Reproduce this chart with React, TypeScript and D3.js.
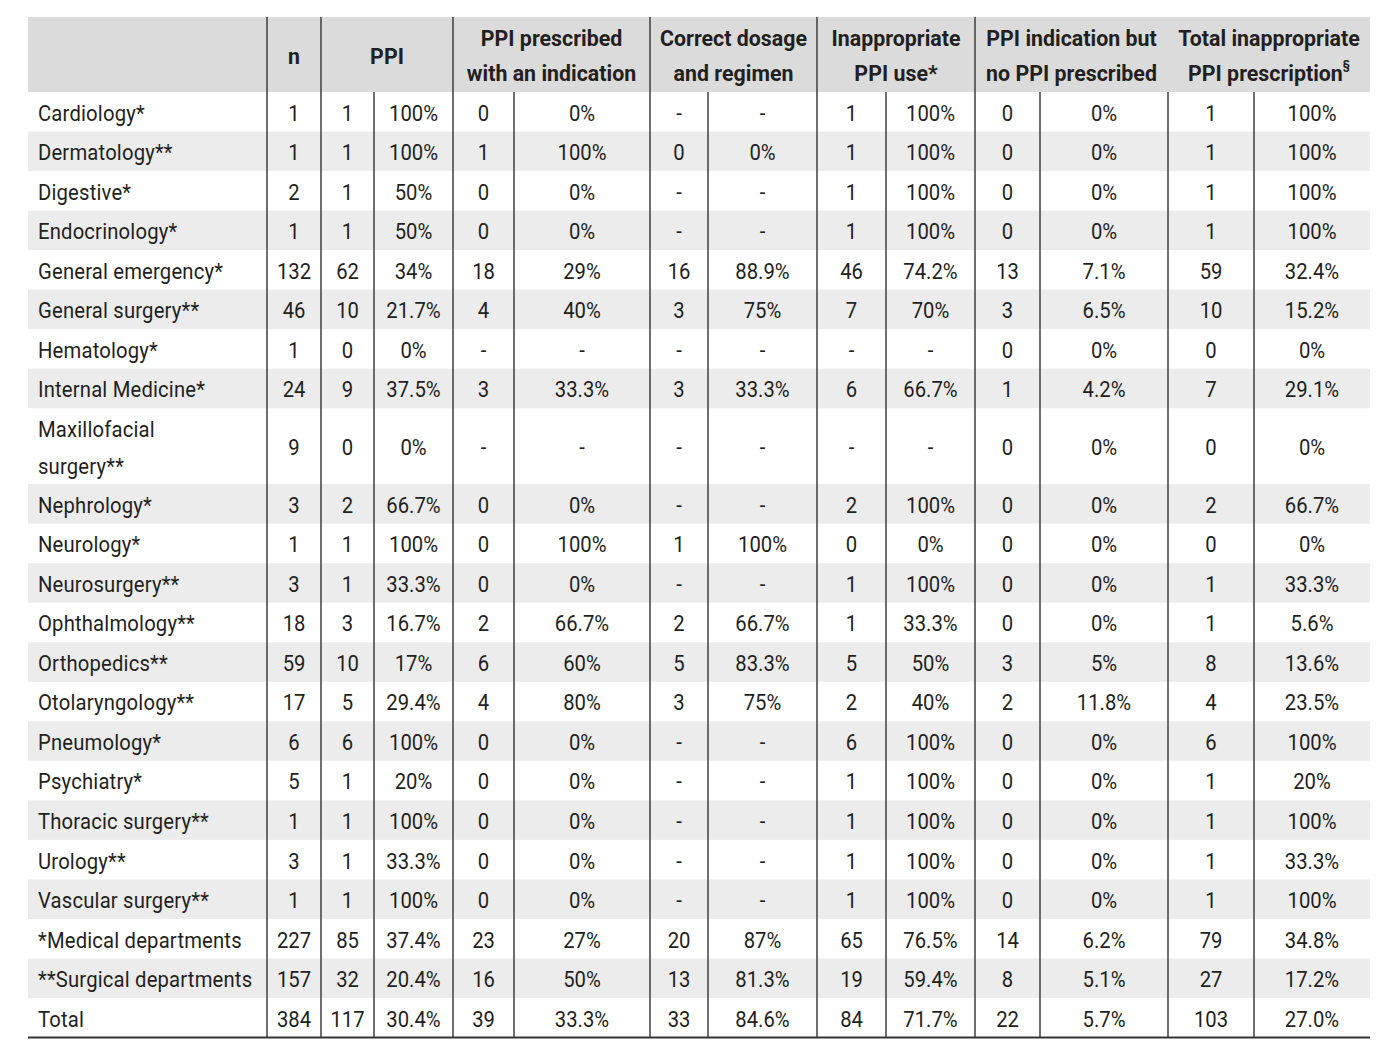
import * as d3 from "d3";

const departments = [
  "Cardiology*", "Dermatology**", "Digestive*", "Endocrinology*", "General emergency*",
  "General surgery**", "Hematology*", "Internal Medicine*", "Maxillofacial\nsurgery**",
  "Nephrology*", "Neurology*", "Neurosurgery**", "Ophthalmology**", "Orthopedics**",
  "Otolaryngology**", "Pneumology*", "Psychiatry*", "Thoracic surgery**", "Urology**",
  "Vascular surgery**", "*Medical departments", "**Surgical departments", "Total",
];

const nTotal = ["1", "1", "2", "1", "132", "46", "1", "24", "9", "3", "1", "3", "18", "59", "17", "6", "5", "1", "3", "1", "227", "157", "384"];
const ppiN = ["1", "1", "1", "1", "62", "10", "0", "9", "0", "2", "1", "1", "3", "10", "5", "6", "1", "1", "1", "1", "85", "32", "117"];
const ppiPct = ["100%", "100%", "50%", "50%", "34%", "21.7%", "0%", "37.5%", "0%", "66.7%", "100%", "33.3%", "16.7%", "17%", "29.4%", "100%", "20%", "100%", "33.3%", "100%", "37.4%", "20.4%", "30.4%"];
const indicN = ["0", "1", "0", "0", "18", "4", "-", "3", "-", "0", "0", "0", "2", "6", "4", "0", "0", "0", "0", "0", "23", "16", "39"];
const indicPct = ["0%", "100%", "0%", "0%", "29%", "40%", "-", "33.3%", "-", "0%", "100%", "0%", "66.7%", "60%", "80%", "0%", "0%", "0%", "0%", "0%", "27%", "50%", "33.3%"];
const dosageN = ["-", "0", "-", "-", "16", "3", "-", "3", "-", "-", "1", "-", "2", "5", "3", "-", "-", "-", "-", "-", "20", "13", "33"];
const dosagePct = ["-", "0%", "-", "-", "88.9%", "75%", "-", "33.3%", "-", "-", "100%", "-", "66.7%", "83.3%", "75%", "-", "-", "-", "-", "-", "87%", "81.3%", "84.6%"];
const inapN = ["1", "1", "1", "1", "46", "7", "-", "6", "-", "2", "0", "1", "1", "5", "2", "6", "1", "1", "1", "1", "65", "19", "84"];
const inapPct = ["100%", "100%", "100%", "100%", "74.2%", "70%", "-", "66.7%", "-", "100%", "0%", "100%", "33.3%", "50%", "40%", "100%", "100%", "100%", "100%", "100%", "76.5%", "59.4%", "71.7%"];
const noPpiN = ["0", "0", "0", "0", "13", "3", "0", "1", "0", "0", "0", "0", "0", "3", "2", "0", "0", "0", "0", "0", "14", "8", "22"];
const noPpiPct = ["0%", "0%", "0%", "0%", "7.1%", "6.5%", "0%", "4.2%", "0%", "0%", "0%", "0%", "0%", "5%", "11.8%", "0%", "0%", "0%", "0%", "0%", "6.2%", "5.1%", "5.7%"];
const totInapN = ["1", "1", "1", "1", "59", "10", "0", "7", "0", "2", "0", "1", "1", "8", "4", "6", "1", "1", "1", "1", "79", "27", "103"];
const totInapPct = ["100%", "100%", "100%", "100%", "32.4%", "15.2%", "0%", "29.1%", "0%", "66.7%", "0%", "33.3%", "5.6%", "13.6%", "23.5%", "100%", "20%", "100%", "33.3%", "100%", "34.8%", "17.2%", "27.0%"];

const columns = [nTotal, ppiN, ppiPct, indicN, indicPct, dosageN, dosagePct, inapN, inapPct, noPpiN, noPpiPct, totInapN, totInapPct];

const headers = [
  { lines: ["n"], span: 1 },
  { lines: ["PPI"], span: 2 },
  { lines: ["PPI prescribed", "with an indication"], span: 2 },
  { lines: ["Correct dosage", "and regimen"], span: 2 },
  { lines: ["Inappropriate", "PPI use*"], span: 2 },
  { lines: ["PPI indication but", "no PPI prescribed"], span: 2 },
  { lines: ["Total inappropriate", "PPI prescription"], span: 2, sup: "§" },
];

// layout
const W = 1396;
const H = 1059;
const colEdges = [28, 267, 321, 374, 453, 514, 650, 708, 817, 886, 975, 1040, 1168, 1254, 1370];
const headTop = 17;
const headBottom = 92;
const tableBottom = 1037.5;
const FONT = "Roboto, 'Noto Sans', sans-serif";
const FS = 22.5;
const ink = "#231f20";

const T = ({ x, y, anchor = "start", bold = false, sx = 0.88, ls = 0, children }: any) => (
  <text
    transform={`translate(${x},${y}) scale(${sx},1)`}
    dy={1}
    textAnchor={anchor}
    dominantBaseline="central"
    fontSize={FS}
    fontWeight={bold ? "bold" : "normal"}
    letterSpacing={ls}
    fill={ink}
  >
    {children}
  </text>
);

export default function App() {
  const units = departments.map((d) => (d.includes("\n") ? 1.92 : 1));
  const cum = [0, ...d3.cumsum(units)];
  const y = d3.scaleLinear().domain([0, cum[cum.length - 1]]).range([headBottom, tableBottom]);

  const groupEdges: number[] = [];
  let ci = 1;
  headers.forEach((h) => {
    groupEdges.push(ci);
    ci += h.span;
  });

  return (
    <svg
      width={W}
      height={H}
      style={{ position: "absolute", left: 0, top: 0, background: "#fff" }}
      fontFamily={FONT}
    >
      {/* header band */}
      <rect x={colEdges[0]} y={headTop} width={colEdges[colEdges.length - 1] - colEdges[0]} height={headBottom - headTop} fill="#dbdbdc" />

      {/* row stripes */}
      {departments.map((d, i) =>
        i % 2 === 1 ? (
          <rect key={"bg" + i} x={colEdges[0]} y={y(cum[i])} width={colEdges[colEdges.length - 1] - colEdges[0]} height={y(cum[i + 1]) - y(cum[i])} fill="#ececec" />
        ) : null
      )}

      {/* header text */}
      {headers.map((h, i) => {
        const c0 = groupEdges[i];
        const cx = (colEdges[c0] + colEdges[c0 + h.span]) / 2;
        const ys = h.lines.length === 1 ? [55] : [37.5, 72];
        return h.lines.map((ln, j) => (
          <T key={"h" + i + j} x={cx} y={ys[j]} anchor="middle" bold sx={0.95}>
            {ln}
            {h.sup && j === h.lines.length - 1 ? (
              <tspan fontSize={12} dy={-8}>{h.sup}</tspan>
            ) : null}
          </T>
        ));
      })}

      {/* header vertical lines */}
      {groupEdges.map((c, i) =>
        i === groupEdges.length - 1 ? null : (
          <line key={"hv" + i} x1={colEdges[c]} x2={colEdges[c]} y1={headTop} y2={headBottom} stroke="#333" strokeWidth={1.4} />
        )
      )}

      {/* body vertical lines */}
      {colEdges.slice(1, -1).map((x, i) => (
        <line key={"bv" + i} x1={x} x2={x} y1={headBottom} y2={tableBottom} stroke="#333" strokeWidth={1.4} />
      ))}

      {/* body text */}
      {departments.map((d, i) => {
        const cy = (y(cum[i]) + y(cum[i + 1])) / 2;
        const parts = d.split("\n");
        return (
          <g key={"r" + i}>
            {parts.map((p, j) => (
              <T key={j} x={38} y={parts.length === 1 ? cy : cy + (j - 0.5) * 37} sx={0.9} ls={0.2}>
                {p}
              </T>
            ))}
            {columns.map((col, k) => (
              <T key={k} x={(colEdges[k + 1] + colEdges[k + 2]) / 2} y={cy} anchor="middle" sx={0.9}>
                {col[i]}
              </T>
            ))}
          </g>
        );
      })}

      {/* bottom rule */}
      <line x1={colEdges[0]} x2={colEdges[colEdges.length - 1]} y1={tableBottom} y2={tableBottom} stroke="#333" strokeWidth={2} />
    </svg>
  );
}
